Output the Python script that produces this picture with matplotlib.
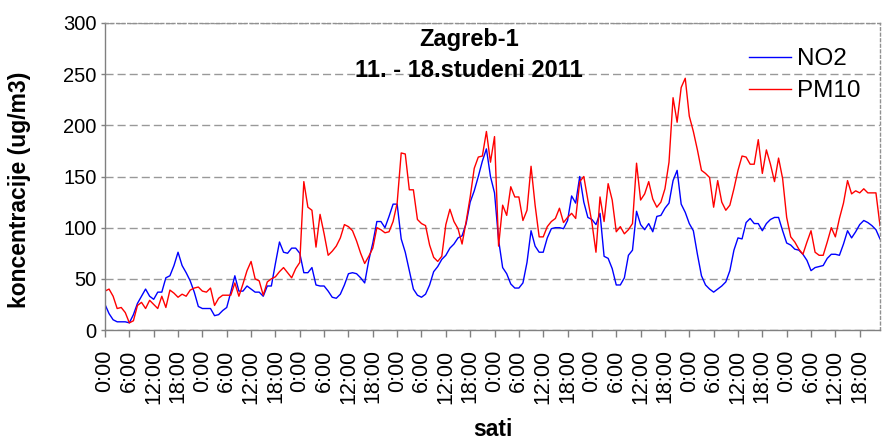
import matplotlib
matplotlib.use("Agg")
import matplotlib.pyplot as plt

plt.rcParams['font.family'] = ['Liberation Sans', 'DejaVu Sans']

# hourly values, 11.-18.11.2011, Zagreb-1 (ug/m3)
no2 = [25, 16, 10, 8, 8, 8, 7, 15, 26, 33, 40, 33,
       30, 37, 37, 51, 53, 63, 76, 63, 56, 48, 37, 23,
       21, 21, 21, 14, 15, 19, 22, 37, 53, 38, 38, 43,
       40, 37, 37, 33, 43, 43, 65, 86, 76, 75, 80, 80,
       75, 56, 56, 61, 44, 43, 43, 38, 32, 31, 35, 44,
       55, 56, 55, 51, 46, 68, 85, 106, 106, 100, 111, 123,
       123, 89, 76, 58, 40, 34, 32, 35, 44, 57, 62, 69,
       73, 80, 84, 90, 92, 104, 125, 136, 150, 165, 177, 150,
       134, 88, 61, 55, 45, 41, 41, 46, 66, 97, 82, 76,
       76, 90, 99, 100, 100, 99, 107, 131, 124, 150, 125, 110,
       108, 103, 114, 72, 70, 60, 44, 44, 51, 73, 78, 116,
       103, 98, 104, 96, 111, 112, 119, 124, 146, 156, 123, 115,
       104, 97, 74, 53, 44, 40, 37, 40, 43, 47, 58, 78,
       90, 89, 105, 109, 104, 104, 97, 104, 108, 110, 110, 97,
       85, 83, 79, 78, 74, 68, 58, 61, 62, 63, 70, 74,
       74, 73, 84, 97, 90, 96, 103, 107, 105, 102, 98, 89]

pm10 = [38, 40, 33, 21, 22, 17, 7, 9, 24, 27, 21, 29,
        25, 21, 33, 22, 39, 36, 32, 35, 33, 39, 41, 42,
        38, 37, 41, 24, 31, 34, 34, 34, 46, 33, 45, 58,
        67, 50, 48, 34, 47, 50, 52, 57, 61, 56, 51, 60,
        66, 145, 120, 117, 81, 113, 94, 73, 77, 82, 90, 103,
        101, 97, 87, 75, 65, 72, 80, 100, 98, 95, 96, 106,
        124, 173, 172, 137, 137, 108, 104, 102, 83, 71, 67, 72,
        103, 118, 106, 99, 84, 106, 130, 158, 169, 170, 194, 164,
        189, 82, 122, 112, 140, 130, 130, 107, 117, 160, 122, 91,
        91, 101, 106, 109, 119, 105, 110, 114, 109, 145, 150, 127,
        105, 76, 130, 106, 143, 127, 96, 101, 94, 98, 104, 163,
        127, 133, 145, 128, 120, 125, 138, 164, 227, 203, 237, 246,
        209, 194, 176, 156, 153, 149, 120, 146, 125, 117, 122, 138,
        156, 170, 169, 162, 162, 186, 153, 176, 162, 145, 168, 148,
        110, 91, 86, 79, 74, 86, 97, 76, 73, 73, 86, 100,
        91, 109, 124, 146, 133, 136, 134, 138, 134, 134, 134, 102]

tick_labels = ["0:00", "6:00", "12:00", "18:00"] * 8
hours = list(range(len(no2)))

W, H = 882, 442
fig = plt.figure(figsize=(W / 100, H / 100), dpi=100)
ax = fig.add_axes([105 / W, 1 - 330 / H, 775 / W, 307 / H])

ax.plot(hours, no2, color="#0000ff", lw=1.0, label="NO2")
ax.plot(hours, pm10, color="#ff0000", lw=1.0, label="PM10")

ax.set_xlim(0, len(no2) - 1)
ax.set_ylim(0, 300)
ax.set_yticks(range(0, 301, 50))
ax.set_xticks(range(0, len(no2), 6))
ax.set_xticklabels(tick_labels, rotation=90, fontsize=15.5)
ax.tick_params(axis='y', labelsize=14.5, length=3, width=1, color="#808080", pad=3)
ax.tick_params(axis='x', length=5, width=1, color="#808080", pad=9)

ax.grid(axis='y', color="#999999", linestyle=(0, (5.8, 2.9)), linewidth=1.0)
ax.set_axisbelow(True)

for side in ["left", "bottom"]:
    ax.spines[side].set_color("#808080")
    ax.spines[side].set_linewidth(1.0)
for side in ["top", "right"]:
    ax.spines[side].set_color("#909090")
    ax.spines[side].set_linestyle((0, (2, 2)))
    ax.spines[side].set_linewidth(1.0)

# titles and axis labels
fig.text(469 / W, 1 - 46 / H, "Zagreb-1", fontsize=17, fontweight="bold",
         ha="center", va="baseline")
fig.text(469 / W, 1 - 77 / H, "11. - 18.studeni 2011", fontsize=17,
         fontweight="bold", ha="center", va="baseline")
fig.text(20 / W, 1 - 190 / H, "koncentracije (ug/m3)", fontsize=16.5,
         fontweight="bold", rotation=90, ha="center", va="center")
fig.text(493 / W, 1 - 430 / H, "sati", fontsize=16.5, fontweight="bold",
         ha="center", va="center")

ax.legend(loc="upper left", bbox_to_anchor=(749 / W, 1 - 48 / H),
          bbox_transform=fig.transFigure, frameon=False, fontsize=17.5,
          handlelength=1.72, handletextpad=0.27, labelspacing=0.42,
          borderpad=0, borderaxespad=0)

fig.savefig("out.png", dpi=100)
